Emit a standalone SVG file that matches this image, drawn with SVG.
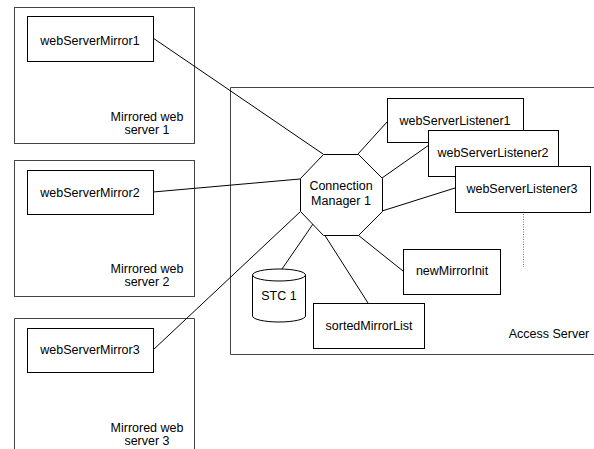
<svg xmlns="http://www.w3.org/2000/svg" width="594" height="449" viewBox="0 0 594 449">
<style>
.t{font-family:"Liberation Sans",Arial,Helvetica,sans-serif;font-size:12.5px;fill:#000;text-anchor:middle}
.c{fill:none;stroke:#444;stroke-width:1}
.b{fill:#fff;stroke:#000;stroke-width:1}
.l{fill:none;stroke:#000;stroke-width:1}
</style>
<rect width="594" height="449" fill="#fff"/>
<g id="server1"><rect class="c" x="14.5" y="7.5" width="180" height="136"/><text class="t" x="147" y="121">Mirrored web</text><text class="t" x="147" y="134">server 1</text></g>
<g id="server2"><rect class="c" x="14.5" y="160.5" width="180" height="136"/><text class="t" x="147" y="273">Mirrored web</text><text class="t" x="147" y="286">server 2</text></g>
<g id="server3"><path class="c" d="M14.5 449V318.5H194.5V449"/><text class="t" x="147" y="432">Mirrored web</text><text class="t" x="147" y="445">server 3</text></g>
<g id="accessServer"><path class="c" d="M600 87.5H230.5V354.5H600"/><text class="t" x="549" y="338">Access Server</text></g>
<g id="connectors">
<line class="l" x1="153" y1="38" x2="323" y2="154"/>
<line class="l" x1="153" y1="192" x2="300" y2="179"/>
<line class="l" x1="153" y1="350" x2="300" y2="212"/>
<line class="l" x1="358" y1="154" x2="387" y2="122"/>
<line class="l" x1="382" y1="178" x2="429" y2="145"/>
<line class="l" x1="382" y1="211" x2="455" y2="188"/>
<line class="l" x1="313" y1="224" x2="282" y2="269"/>
<line class="l" x1="324" y1="234" x2="368" y2="303"/>
<line class="l" x1="358" y1="235" x2="403" y2="271"/>
<line x1="523.5" y1="214" x2="523.5" y2="267" stroke="#777" stroke-width="1" stroke-dasharray="1 1.5"/>
</g>
<g id="webServerMirror1"><rect class="b" x="27.5" y="16.5" width="126" height="45"/><text class="t" x="90" y="45">webServerMirror1</text></g>
<g id="webServerMirror2"><rect class="b" x="27.5" y="170.5" width="126" height="44"/><text class="t" x="90" y="197">webServerMirror2</text></g>
<g id="webServerMirror3"><rect class="b" x="27.5" y="328.5" width="126" height="44"/><text class="t" x="90" y="354">webServerMirror3</text></g>
<g id="connectionManager"><polygon class="b" points="323.5,154.5 358.5,154.5 382.5,178.5 382.5,211.5 358.5,235.5 323.5,235.5 300.5,211.5 300.5,178.5"/><text class="t" x="341" y="190">Connection</text><text class="t" x="341" y="205">Manager 1</text></g>
<g id="webServerListener1"><rect class="b" x="387.5" y="98.5" width="136" height="44"/><text class="t" x="455" y="125">webServerListener1</text></g>
<g id="webServerListener2"><rect class="b" x="428.5" y="130.5" width="130" height="46"/><text class="t" x="493" y="157">webServerListener2</text></g>
<g id="webServerListener3"><rect class="b" x="455.5" y="166.5" width="135" height="46"/><text class="t" x="522" y="193">webServerListener3</text></g>
<g id="stc1"><path class="b" d="M252.5 275V316A26.5 6 0 0 0 305.5 316V275"/><ellipse class="b" cx="279" cy="275" rx="26.5" ry="6"/><text class="t" x="279" y="300">STC 1</text></g>
<g id="newMirrorInit"><rect class="b" x="403.5" y="249.5" width="97" height="45"/><text class="t" x="452" y="275">newMirrorInit</text></g>
<g id="sortedMirrorList"><rect class="b" x="313.5" y="303.5" width="111" height="45"/><text class="t" x="369" y="330">sortedMirrorList</text></g>
</svg>
